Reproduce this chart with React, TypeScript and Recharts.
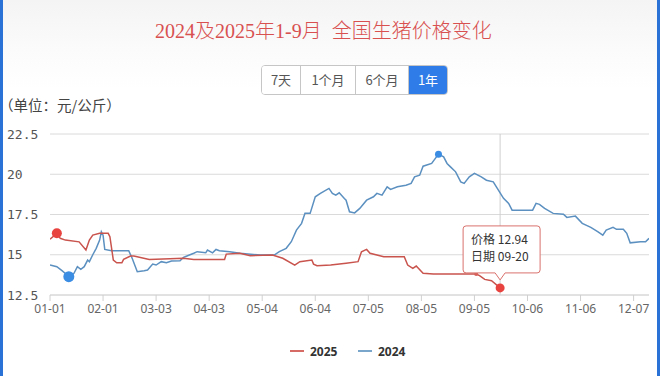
import React from 'react';
import { LineChart, Line, XAxis, YAxis, CartesianGrid, ReferenceDot, ReferenceLine } from 'recharts';

const titleText = '2024及2025年1-9月  全国生猪价格变化';
const rangeButtons = ['7天', '1个月', '6个月', '1年'];
const activeButton = 3;
const unitLabel = '（单位：元/公斤）';
const seriesNames = ['2025', '2024'];
const tooltipLabels = ['价格', '日期'];
const tooltipDate = '09-20';

const xTickDays = [0, 31, 62, 93, 124, 155, 186, 217, 248, 279, 310, 341];
const xTickLabels = ['01-01', '02-01', '03-03', '04-03', '05-04', '06-04', '07-05', '08-05', '09-05', '10-06', '11-06', '12-07'];
const yTicks = [12.5, 15, 17.5, 20, 22.5];

const days2025 = [0, 4, 6, 9, 17, 21, 23, 25, 29, 34, 35, 37, 39, 42, 43, 47, 49, 58, 78, 84, 102, 103, 111, 117, 130, 136, 143, 146, 153, 154, 156, 164, 173, 180, 182, 185, 187, 195, 207, 209, 212, 214, 218, 224, 240, 249, 251, 254, 258, 263];
const values2025 = [15.97, 16.33, 16.02, 15.91, 15.8, 15.29, 15.91, 16.22, 16.33, 16.33, 16.12, 14.67, 14.5, 14.5, 14.71, 14.92, 14.92, 14.71, 14.78, 14.71, 14.71, 15.04, 15.09, 14.94, 14.98, 14.78, 14.36, 14.57, 14.67, 14.42, 14.32, 14.36, 14.47, 14.57, 15.19, 15.33, 15.09, 14.88, 14.88, 14.36, 14.16, 14.3, 13.85, 13.8, 13.8, 13.8, 13.7, 13.47, 13.39, 12.94];

const days2024 = [0, 4, 7, 10, 11, 14, 16, 18, 20, 22, 23, 25, 27, 29, 30, 31, 32, 36, 46, 48, 51, 55, 57, 60, 62, 65, 68, 71, 76, 78, 80, 84, 86, 91, 92, 95, 97, 99, 105, 111, 123, 131, 134, 138, 141, 144, 147, 149, 152, 155, 158, 163, 165, 167, 169, 172, 173, 175, 178, 181, 185, 189, 191, 194, 197, 199, 203, 208, 211, 213, 216, 218, 223, 227, 230, 232, 234, 237, 240, 242, 245, 248, 252, 255, 259, 262, 265, 268, 270, 282, 284, 286, 289, 294, 300, 302, 307, 311, 316, 320, 323, 325, 329, 331, 335, 337, 339, 345, 348, 350];
const values2024 = [14.36, 14.26, 14.01, 13.74, 13.64, 13.85, 14.26, 14.09, 14.26, 14.67, 14.57, 15.0, 15.4, 15.91, 16.43, 16.22, 15.33, 15.25, 15.25, 14.78, 13.95, 14.01, 14.05, 14.42, 14.36, 14.57, 14.5, 14.61, 14.63, 14.84, 14.92, 15.09, 15.19, 15.12, 15.29, 15.12, 15.33, 15.25, 15.19, 15.09, 14.98, 14.98, 15.19, 15.4, 15.81, 16.53, 16.95, 17.57, 17.57, 18.6, 18.81, 19.12, 18.81, 18.7, 18.85, 18.5, 18.39, 17.67, 17.6, 17.88, 18.39, 18.6, 18.81, 18.7, 19.22, 19.06, 19.22, 19.32, 19.43, 19.84, 19.94, 20.5, 20.67, 21.25, 21.08, 20.67, 20.46, 20.15, 19.53, 19.43, 19.84, 20.05, 19.84, 19.63, 19.53, 19.01, 18.5, 18.19, 17.77, 17.77, 18.19, 18.13, 17.88, 17.57, 17.52, 17.32, 17.4, 16.95, 16.7, 16.43, 16.22, 16.53, 16.7, 16.58, 16.58, 16.33, 15.74, 15.81, 15.81, 16.02];

const data2025 = days2025.map((d, i) => ({ d, v: values2025[i] }));
const data2024 = days2024.map((d, i) => ({ d, v: values2024[i] }));

const RED = '#c9534d';
const BLUE = '#5b90c0';
const RED_MARK = '#e8433f';
const BLUE_MARK = '#3b8de4';

const maxIdx = (arr: number[]) => arr.indexOf(Math.max(...arr));
const minIdx = (arr: number[]) => arr.indexOf(Math.min(...arr));

const redMaxI = maxIdx(values2025);
const redLastI = values2025.length - 1;
const blueMinI = minIdx(values2024);
const blueMaxI = maxIdx(values2024);

const YTick = (props: any) => {
  const { y, payload } = props;
  return (
    <text x={7} y={y} dy={4.5} textAnchor="start" fill="#555" fontSize={13} fontFamily='"DejaVu Sans Mono", monospace'>
      {String(payload.value)}
    </text>
  );
};

const TipDot = (props: any) => {
  const { cx, cy } = props;
  if (cx == null || cy == null) return null;
  const left = cx - 37;
  const right = cx + 40;
  const top = cy - 62;
  const bottom = cy - 15;
  const r = 3;
  const path = `M${left + r},${top} H${right - r} Q${right},${top} ${right},${top + r} V${bottom - r} Q${right},${bottom} ${right - r},${bottom} H${cx + 5} L${cx},${cy - 8} L${cx - 5},${bottom} H${left + r} Q${left},${bottom} ${left},${bottom - r} V${top + r} Q${left},${top} ${left + r},${top} Z`;
  return (
    <g>
      <path d={path} fill="#fff" stroke="#d9716c" strokeWidth={1} />
      <text x={left + 8} y={top + 18.5} fill="#333" fontSize={12} fontFamily='"Noto Sans CJK SC", "Noto Sans", sans-serif'>
        {tooltipLabels[0]} {values2025[redLastI].toFixed(2)}
      </text>
      <text x={left + 8} y={top + 35.5} fill="#333" fontSize={12} fontFamily='"Noto Sans CJK SC", "Noto Sans", sans-serif'>
        {tooltipLabels[1]} {tooltipDate}
      </text>
      <circle cx={cx} cy={cy} r={4.5} fill={RED_MARK} />
    </g>
  );
};

export default function App() {
  const btnWidths = [39, 55, 53, 39];
  return (
    <div
      style={{
        position: 'absolute',
        left: 0,
        top: 0,
        width: 660,
        height: 376,
        overflow: 'hidden',
        background: 'linear-gradient(#f4f4f4 0px, #fbfbfb 50px, #ffffff 90px)',
        fontFamily: '"Noto Sans", "Noto Sans CJK SC", sans-serif',
      }}
    >
      <div style={{ position: 'absolute', left: 0, top: 0, width: 3, height: 376, background: '#2a72d6' }} />
      <div style={{ position: 'absolute', right: 0, top: 0, width: 3, height: 376, background: '#2a72d6' }} />
      <div
        style={{
          position: 'absolute',
          left: 155,
          top: 21,
          fontSize: 20,
          lineHeight: '20px',
          fontWeight: 300,
          color: '#d85050',
          whiteSpace: 'pre',
          fontFamily: '"Liberation Serif", "Noto Sans CJK SC", serif',
        }}
      >
        {titleText}
      </div>
      <div
        style={{
          position: 'absolute',
          left: 261,
          top: 65,
          height: 30,
          display: 'flex',
          border: '1px solid #c6c6c6',
          borderRadius: 4,
          overflow: 'hidden',
          boxSizing: 'border-box',
          background: '#fff',
        }}
      >
        {rangeButtons.map((b, i) => (
          <div
            key={b}
            style={{
              width: btnWidths[i] - (i === 0 ? 1 : 0),
              height: 28,
              lineHeight: '28px',
              textAlign: 'center',
              fontSize: 13,
              fontFamily: '"Noto Sans CJK SC", sans-serif',
              color: i === activeButton ? '#fff' : '#555',
              background: i === activeButton ? '#2f7ce8' : '#fff',
              borderLeft: i > 0 ? '1px solid #c6c6c6' : 'none',
              boxSizing: 'border-box',
            }}
          >
            {b}
          </div>
        ))}
      </div>
      <div
        style={{
          position: 'absolute',
          left: -1,
          top: 95,
          fontSize: 14.5,
          lineHeight: '20px',
          color: '#444',
          whiteSpace: 'pre',
          fontFamily: '"Noto Sans CJK SC", sans-serif',
        }}
      >
        {unitLabel}
      </div>
      <LineChart
        width={660}
        height={376}
        style={{ position: 'absolute', left: 0, top: 0 }}
        margin={{ top: 134, right: 11, bottom: 51, left: 0 }}
      >
        <CartesianGrid vertical={false} stroke="#dadada" />
        <XAxis
          type="number"
          dataKey="d"
          domain={[0, 350]}
          ticks={xTickDays}
          interval={0}
          allowDataOverflow
          tickFormatter={(v: number) => xTickLabels[xTickDays.indexOf(v)] ?? ''}
          height={30}
          tickSize={6}
          tickMargin={3}
          axisLine={{ stroke: '#d6d6d6' }}
          tickLine={{ stroke: '#d0d0d0' }}
          tick={{ fill: '#666', fontSize: 12, fontFamily: '"Noto Sans", sans-serif' }}
        />
        <YAxis
          type="number"
          domain={[12.5, 22.5]}
          ticks={yTicks}
          interval={0}
          width={50}
          axisLine={false}
          tickLine={false}
          tick={<YTick />}
        />
        <ReferenceLine x={days2025[redLastI]} stroke="#cfcfcf" strokeWidth={1} />
        <Line
          data={data2024}
          dataKey="v"
          name={seriesNames[1]}
          type="linear"
          stroke={BLUE}
          strokeWidth={1.5}
          dot={false}
          isAnimationActive={false}
        />
        <Line
          data={data2025}
          dataKey="v"
          name={seriesNames[0]}
          type="linear"
          stroke={RED}
          strokeWidth={1.5}
          dot={false}
          isAnimationActive={false}
        />
        <ReferenceDot x={days2025[redMaxI]} y={values2025[redMaxI]} r={5} fill={RED_MARK} stroke="none" />
        <ReferenceDot x={days2025[45]} y={values2025[45]} r={2} fill="#d8605a" stroke="none" />
        <ReferenceDot x={days2024[blueMinI]} y={values2024[blueMinI]} r={5.5} fill={BLUE_MARK} stroke="none" />
        <ReferenceDot x={days2024[blueMaxI]} y={values2024[blueMaxI]} r={3.5} fill={BLUE_MARK} stroke="none" />
        <ReferenceDot x={days2025[redLastI]} y={values2025[redLastI]} r={4.5} shape={<TipDot />} />
      </LineChart>
      {seriesNames.map((n, i) => (
        <div
          key={n}
          style={{
            position: 'absolute',
            left: i === 0 ? 290 : 358,
            top: 342,
            height: 18,
            display: 'flex',
            alignItems: 'center',
          }}
        >
          <div style={{ width: 14, height: 2, background: i === 0 ? '#d66a64' : '#7ba6cc', marginRight: 6 }} />
          <span style={{ fontSize: 12, fontWeight: 700, color: '#333', fontFamily: '"Noto Sans", sans-serif' }}>{n}</span>
        </div>
      ))}
    </div>
  );
}
